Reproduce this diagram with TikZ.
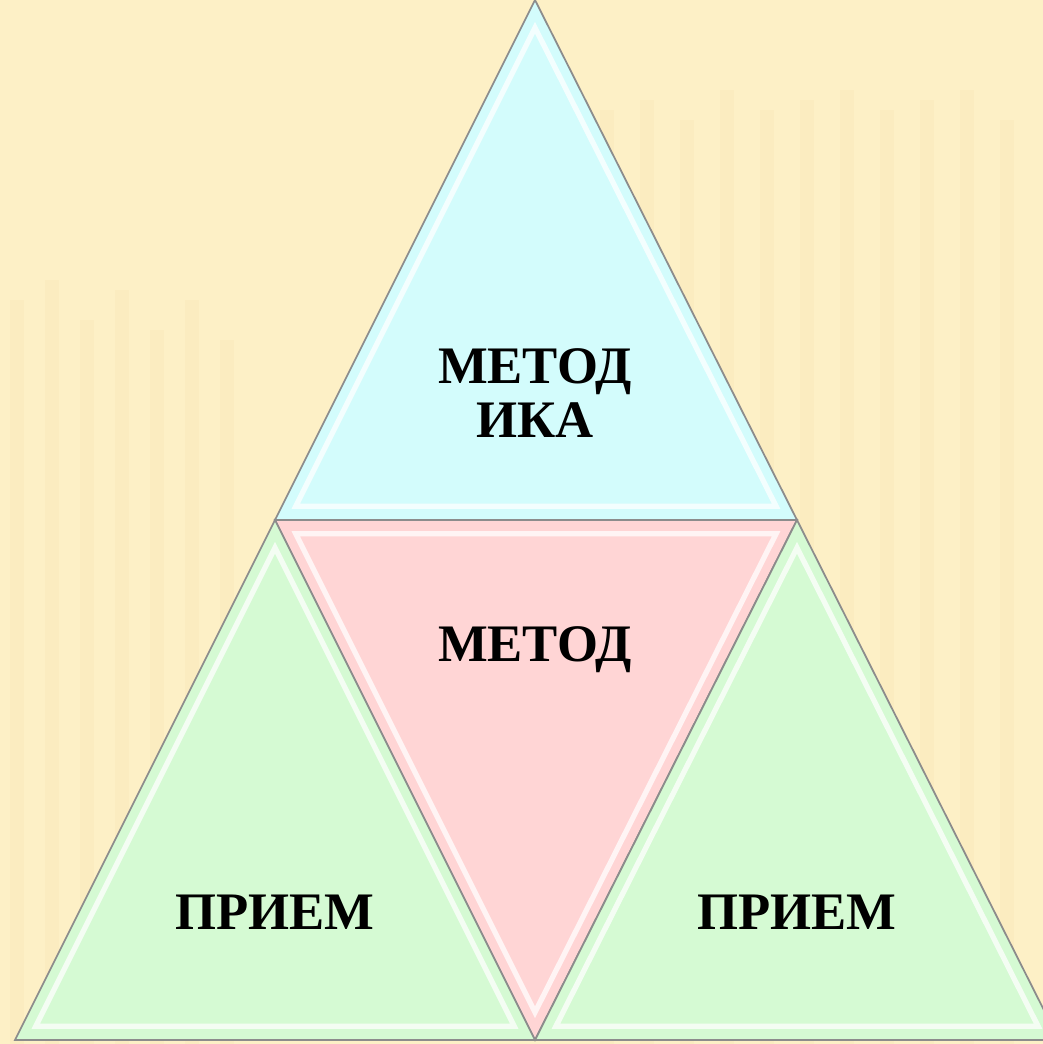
\documentclass[tikz,border=0pt]{standalone}
\usepackage{fontspec}
\setmainfont{Liberation Serif}
\usetikzlibrary{calc}
\definecolor{paper}{HTML}{FDF0C6}
\definecolor{stripe}{HTML}{F3DFA8}
\definecolor{topfill}{HTML}{D3FCFC}
\definecolor{midfill}{HTML}{FFD5D5}
\definecolor{sidefill}{HTML}{D5FAD3}
\tikzset{
  tri/.style={draw=black!45, line width=1pt, line join=miter},
  shine/.style={draw=white, line width=3pt, opacity=0.75, line join=miter},
  word/.style={font=\fontsize{30}{31}\selectfont\bfseries, align=center,
               text=black, inner sep=0pt},
}

\begin{document}
\begin{tikzpicture}[x=0.02cm, y=-0.02cm]

%% background
\fill[paper] (0,0) rectangle (1043,1044);
\useasboundingbox (0,0) rectangle (1043,1044);
\foreach \x/\h in {10/300, 45/280, 80/320, 115/290, 150/330, 185/300,
                   220/340, 600/110, 640/100, 680/120, 720/90, 760/110,
                   800/100, 840/90, 880/110, 920/100, 960/90, 1000/120} {
  \fill[stripe, opacity=0.18] (\x,\h) rectangle ++(14,{1044-\h});
}

%% corners
\coordinate (apex) at (535,0);
\coordinate (tl)   at (275,520);
\coordinate (tr)   at (797,520);
\coordinate (bl)   at (15,1040);
\coordinate (bm)   at (535,1040);
\coordinate (br)   at (1059,1040);

\begin{scope}
  \clip (0,0) rectangle (1043,1044);

  % top triangle
  \fill[topfill] (apex) -- (tl) -- (tr) -- cycle;
  \draw[shine] ($(apex)!0.08!(535,347)$) -- ($(tl)!0.08!(535,347)$)
               -- ($(tr)!0.08!(535,347)$) -- cycle;
  \draw[tri] (apex) -- (tl) -- (tr) -- cycle;

  % middle triangle
  \fill[midfill] (tl) -- (tr) -- (bm) -- cycle;
  \draw[shine] ($(tl)!0.08!(535,693)$) -- ($(tr)!0.08!(535,693)$)
               -- ($(bm)!0.08!(535,693)$) -- cycle;
  \draw[tri] (tl) -- (tr) -- (bm) -- cycle;

  % side triangles
  \foreach \a/\b/\c/\m in {tl/bl/bm/275, tr/bm/br/797} {
    \fill[sidefill] (\a) -- (\b) -- (\c) -- cycle;
    \draw[shine] ($(\a)!0.08!(\m,867)$) -- ($(\b)!0.08!(\m,867)$)
                 -- ($(\c)!0.08!(\m,867)$) -- cycle;
    \draw[tri] (\a) -- (\b) -- (\c) -- cycle;
  }
\end{scope}

%% labels
\node[word] (metodika) at (535,393) {МЕТОД\\ИКА};
\node[word] (metod)    at (535,650) {МЕТОД};
\node[word] (priem1)   at (275,912) {ПРИЕМ};
\node[word] (priem2)   at (797,912) {ПРИЕМ};

\end{tikzpicture}
\end{document}
